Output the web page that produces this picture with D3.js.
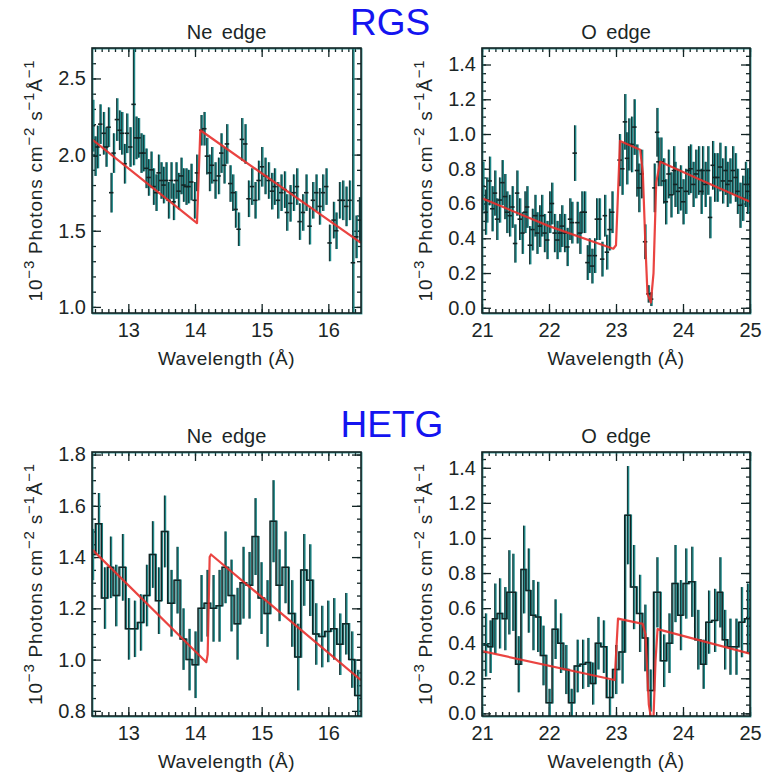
<!DOCTYPE html>
<html>
<head>
<meta charset="utf-8">
<script src="https://cdn.jsdelivr.net/npm/d3@7"></script>
<style>
  body { margin: 0; background: #fff; }
  svg { display: block; }
  text { font-family: "Liberation Sans", Arial, sans-serif; fill: #1b2626; }
  .tick text { font-size: 20px; }
  .domain { display: none; }
</style>
</head>
<body>
<div id="chart"></div>
<script>
// RGS Ne edge: [wavelength, flux, error]
var rgsNeData = [
  [12.465,2.19,0.17],[12.50,1.99,0.13],[12.535,2.05,0.14],[12.575,2.20,0.13],[12.625,2.14,0.14],
  [12.665,2.05,0.13],[12.70,2.18,0.13],[12.74,1.75,0.13],[12.775,2.01,0.13],[12.825,2.23,0.14],
  [12.865,2.16,0.13],[12.90,2.14,0.14],[12.94,1.94,0.13],[12.975,2.14,0.13],[13.025,2.05,0.13],
  [13.075,2.33,0.40],[13.115,2.11,0.14],[13.15,2.11,0.13],[13.19,2.01,0.13],[13.225,2.01,0.12],
  [13.265,1.91,0.13],[13.30,1.85,0.12],[13.34,1.90,0.12],[13.375,1.79,0.12],[13.415,1.75,0.12],
  [13.45,1.88,0.12],[13.49,1.83,0.12],[13.525,1.80,0.12],[13.565,1.83,0.12],[13.60,1.70,0.12],
  [13.64,1.83,0.12],[13.675,1.69,0.12],[13.715,1.83,0.12],[13.75,1.76,0.12],[13.79,1.86,0.12],
  [13.825,1.80,0.11],[13.865,1.79,0.12],[13.90,1.79,0.11],[13.94,1.82,0.12],[13.99,1.70,0.12],
  [14.025,1.88,0.12],[14.09,2.16,0.10],[14.135,2.17,0.11],[14.175,1.99,0.12],[14.215,1.88,0.12],
  [14.25,1.93,0.12],[14.30,1.83,0.12],[14.35,1.86,0.12],[14.39,2.01,0.13],[14.435,1.93,0.12],
  [14.475,2.07,0.13],[14.525,1.81,0.12],[14.565,1.75,0.12],[14.605,1.64,0.12],[14.65,1.51,0.11],
  [14.70,2.10,0.14],[14.75,2.07,0.13],[14.80,1.71,0.12],[14.85,1.79,0.12],[14.90,1.70,0.12],
  [14.95,1.83,0.13],[15.00,1.92,0.13],[15.05,1.86,0.12],[15.10,1.83,0.12],[15.15,1.76,0.12],
  [15.19,1.79,0.12],[15.24,1.70,0.12],[15.29,1.75,0.12],[15.34,1.77,0.12],[15.375,1.62,0.12],
  [15.425,1.68,0.12],[15.475,1.75,0.12],[15.525,1.79,0.12],[15.565,1.56,0.12],[15.615,1.62,0.12],
  [15.665,1.75,0.12],[15.715,1.53,0.12],[15.765,1.70,0.12],[15.815,1.75,0.12],[15.865,1.66,0.12],
  [15.915,1.75,0.12],[15.965,1.79,0.12],[16.015,1.42,0.12],[16.075,1.57,0.12],[16.115,1.50,0.12],
  [16.165,1.70,0.12],[16.215,1.70,0.13],[16.265,1.66,0.13],[16.315,1.70,0.13],[16.365,1.29,1.60],
  [16.415,1.46,0.14],[16.465,1.57,0.15]
];
var rgsNeModel = [[12.455,2.10],[14.03,1.55],[14.08,2.16],[16.49,1.42]];

// RGS O edge
var rgsOData = [
  [21.01,0.70,0.14],[21.05,0.55,0.13],[21.07,0.62,0.13],[21.11,0.73,0.14],[21.15,0.57,0.13],
  [21.19,0.66,0.13],[21.22,0.51,0.12],[21.26,0.62,0.13],[21.30,0.72,0.13],[21.34,0.64,0.13],
  [21.37,0.55,0.12],[21.41,0.53,0.12],[21.45,0.58,0.12],[21.49,0.37,0.11],[21.52,0.66,0.13],
  [21.56,0.51,0.12],[21.60,0.43,0.12],[21.64,0.55,0.12],[21.67,0.58,0.12],[21.71,0.36,0.11],
  [21.75,0.45,0.12],[21.79,0.53,0.12],[21.82,0.43,0.12],[21.86,0.47,0.12],[21.89,0.53,0.12],
  [21.93,0.43,0.11],[21.97,0.39,0.11],[22.01,0.55,0.12],[22.04,0.60,0.12],[22.08,0.43,0.11],
  [22.12,0.39,0.11],[22.16,0.43,0.11],[22.19,0.47,0.12],[22.23,0.43,0.11],[22.27,0.35,0.11],
  [22.31,0.51,0.12],[22.34,0.49,0.12],[22.38,0.89,0.16],[22.42,0.49,0.12],[22.46,0.43,0.12],
  [22.49,0.55,0.12],[22.53,0.55,0.12],[22.57,0.26,0.10],[22.60,0.30,0.10],[22.64,0.24,0.10],
  [22.68,0.30,0.10],[22.71,0.51,0.12],[22.75,0.51,0.12],[22.79,0.28,0.10],[22.83,0.53,0.12],
  [22.86,0.32,0.10],[22.90,0.45,0.12],[22.94,0.55,0.12],
  [23.05,0.85,0.15],[23.09,0.80,0.15],[23.13,1.07,0.16],[23.16,0.86,0.15],[23.19,0.94,0.15],
  [23.23,0.94,0.16],[23.27,1.04,0.16],[23.31,0.79,0.15],[23.34,0.69,0.14],[23.38,0.77,0.14],
  [23.43,0.38,0.10],[23.48,0.08,0.05],[23.52,0.05,0.04],[23.57,0.69,0.14],[23.61,1.01,0.14],
  [23.63,0.84,0.14],[23.67,0.84,0.14],[23.71,0.73,0.13],[23.74,0.61,0.13],[23.78,0.77,0.14],
  [23.82,0.65,0.13],[23.86,0.79,0.14],[23.88,0.71,0.13],[23.92,0.67,0.13],[23.96,0.69,0.13],
  [24.00,0.61,0.13],[24.04,0.67,0.13],[24.08,0.79,0.14],[24.11,0.80,0.14],[24.15,0.71,0.13],
  [24.19,0.77,0.14],[24.23,0.79,0.14],[24.27,0.67,0.13],[24.29,0.79,0.14],[24.33,0.71,0.13],
  [24.37,0.79,0.14],[24.40,0.52,0.12],[24.44,0.82,0.14],[24.47,0.75,0.14],[24.51,0.75,0.14],
  [24.55,0.81,0.14],[24.59,0.73,0.13],[24.63,0.79,0.14],[24.66,0.71,0.13],[24.70,0.73,0.13],
  [24.74,0.79,0.14],[24.78,0.75,0.14],[24.81,0.67,0.13],[24.85,0.59,0.13],[24.89,0.63,0.13],
  [24.93,0.71,0.13],[24.96,0.67,0.13],[25.00,0.71,0.13]
];
var rgsOModel = [[21.0,0.63],[22.0,0.47],[22.96,0.34],[23.0,0.36],[23.06,0.96],[23.36,0.91],
  [23.40,0.78],[23.44,0.35],[23.47,0.08],[23.52,0.03],[23.56,0.20],[23.60,0.72],[23.66,0.84],
  [24.3,0.73],[25.0,0.61]];

// HETG Ne edge (binned)
var hetgNeWave = [12.46,12.55,12.64,12.73,12.81,12.91,13.00,13.09,13.18,13.27,13.36,13.45,13.54,
  13.64,13.73,13.82,13.91,14.00,14.09,14.18,14.27,14.36,14.45,14.54,14.63,14.72,14.81,14.90,
  14.99,15.08,15.17,15.26,15.35,15.45,15.54,15.63,15.72,15.81,15.90,15.99,16.08,16.17,16.26,
  16.35,16.44];
var hetgNeFlux = [1.41,1.53,1.24,1.36,1.25,1.36,1.12,1.12,1.145,1.25,1.41,1.23,1.50,1.22,1.31,
  1.08,1.00,0.98,1.20,1.22,1.20,1.21,1.36,1.25,1.14,1.30,1.29,1.48,1.24,1.18,1.54,1.29,1.36,
  1.18,1.01,1.35,1.31,1.10,1.09,1.11,1.12,1.06,1.14,1.00,0.86];
var hetgNeErr = [0.10,0.12,0.12,0.12,0.12,0.13,0.12,0.11,0.11,0.12,0.13,0.13,0.14,0.13,0.13,
  0.12,0.12,0.13,0.13,0.13,0.13,0.14,0.14,0.14,0.14,0.14,0.13,0.15,0.14,0.13,0.16,0.14,0.14,
  0.13,0.13,0.14,0.14,0.12,0.12,0.12,0.12,0.12,0.12,0.11,0.10];
var hetgNeModel = [[12.455,1.43],[14.17,0.99],[14.19,1.02],[14.22,1.40],[14.24,1.41],[16.49,0.92]];

// HETG O edge (binned)
var hetgOWave = [21.05,21.12,21.19,21.26,21.34,21.40,21.46,21.54,21.62,21.69,21.76,21.83,21.91,
  22.00,22.09,22.17,22.25,22.33,22.42,22.50,22.58,22.65,22.73,22.81,22.90,22.995,23.09,23.17,
  23.26,23.35,23.43,23.51,23.61,23.71,23.79,23.88,23.96,24.04,24.13,24.22,24.30,24.38,24.47,
  24.55,24.62,24.70,24.79,24.87,24.96];
var hetgOFlux = [0.39,0.38,0.54,0.57,0.54,0.69,0.69,0.28,0.82,0.70,0.56,0.55,0.33,0.06,0.48,
  0.40,0.25,0.06,0.27,0.28,0.29,0.17,0.40,0.38,0.09,0.25,0.35,1.13,0.72,0.57,0.43,0.13,0.69,
  0.30,0.40,0.74,0.56,0.74,0.75,0.42,0.28,0.52,0.53,0.69,0.42,0.38,0.38,0.52,0.54];
var hetgOErr = [0.18,0.15,0.20,0.20,0.18,0.24,0.22,0.16,0.25,0.24,0.20,0.20,0.17,0.08,0.17,
  0.17,0.14,0.08,0.15,0.14,0.14,0.12,0.15,0.15,0.10,0.14,0.18,0.28,0.24,0.22,0.19,0.12,0.20,
  0.15,0.17,0.22,0.20,0.20,0.20,0.17,0.14,0.18,0.18,0.20,0.17,0.16,0.16,0.20,0.20];
var hetgOModel = [[21.0,0.355],[22.98,0.19],[23.03,0.54],[23.40,0.51],[23.44,0.45],[23.49,0.05],
  [23.52,-0.02],[23.56,-0.02],[23.59,0.30],[23.62,0.48],[25.0,0.34]];

var W = 781, H = 773;
var teal = "#1f8787", ink = "#122424", red = "#e8302c";

var svg = d3.select("#chart").append("svg").attr("width", W).attr("height", H);

function zip(w, f, e){ return w.map(function(d,i){ return [d, f[i], e[i]]; }); }

var panels = [
  {title:"Ne edge", box:[92,48,361,313], x:[12.455,16.49], y:[0.96,2.70], xMaj:1, xMin:0.1, yMaj:0.5, yMin:0.1,
   data:rgsNeData, model:rgsNeModel, hist:false},
  {title:"O edge", box:[482,48,750,313], x:[21,25], y:[-0.03,1.495], xMaj:1, xMin:0.1, yMaj:0.2, yMin:0.05,
   data:rgsOData, model:rgsOModel, hist:false},
  {title:"Ne edge", box:[92,452,361,716], x:[12.455,16.49], y:[0.78,1.81], xMaj:1, xMin:0.1, yMaj:0.2, yMin:0.05,
   data:zip(hetgNeWave,hetgNeFlux,hetgNeErr), model:hetgNeModel, hist:true},
  {title:"O edge", box:[482,452,750,716], x:[21,25], y:[-0.015,1.49], xMaj:1, xMin:0.1, yMaj:0.2, yMin:0.05,
   data:zip(hetgOWave,hetgOFlux,hetgOErr), model:hetgOModel, hist:true}
];

function range(dom, step){
  var a = Math.ceil(dom[0]/step - 1e-6), b = Math.floor(dom[1]/step + 1e-6), out = [];
  for (var i = a; i <= b; i++) out.push(+(i*step).toFixed(4));
  return out;
}

panels.forEach(function(p, idx){
  var x0 = p.box[0], y0 = p.box[1], x1 = p.box[2], y1 = p.box[3];
  var x = d3.scaleLinear().domain(p.x).range([x0, x1]);
  var y = d3.scaleLinear().domain(p.y).range([y1, y0]);
  var g = svg.append("g");

  g.append("clipPath").attr("id","clip"+idx).append("rect")
    .attr("x",x0).attr("y",y0).attr("width",x1-x0).attr("height",y1-y0);

  // minor + major ticks on all four sides, pointing inward
  var xMinor = range(p.x, p.xMin), yMinor = range(p.y, p.yMin);
  var xMajor = range(p.x, p.xMaj), yMajor = range(p.y, p.yMaj);
  g.append("g").attr("transform","translate(0,"+y1+")")
    .call(d3.axisBottom(x).tickValues(xMinor).tickSize(-4).tickFormat(""));
  g.append("g").attr("transform","translate(0,"+y0+")")
    .call(d3.axisTop(x).tickValues(xMinor).tickSize(-4).tickFormat(""));
  g.append("g").attr("transform","translate("+x0+",0)")
    .call(d3.axisLeft(y).tickValues(yMinor).tickSize(-4).tickFormat(""));
  g.append("g").attr("transform","translate("+x1+",0)")
    .call(d3.axisRight(y).tickValues(yMinor).tickSize(-4).tickFormat(""));
  g.append("g").attr("transform","translate(0,"+y1+")")
    .call(d3.axisBottom(x).tickValues(xMajor).tickSize(-9).tickPadding(10).tickFormat(d3.format("d")));
  g.append("g").attr("transform","translate(0,"+y0+")")
    .call(d3.axisTop(x).tickValues(xMajor).tickSize(-9).tickFormat(""));
  g.append("g").attr("transform","translate("+x0+",0)")
    .call(d3.axisLeft(y).tickValues(yMajor).tickSize(-9).tickPadding(6).tickFormat(d3.format(".1f")));
  g.append("g").attr("transform","translate("+x1+",0)")
    .call(d3.axisRight(y).tickValues(yMajor).tickSize(-9).tickFormat(""));
  g.selectAll(".tick line").attr("stroke", ink).attr("stroke-width", 1.3);

  var plot = g.append("g").attr("clip-path","url(#clip"+idx+")");

  // error bars: teal body with dark core
  plot.selectAll(".eb").data(p.data).enter().append("line")
    .attr("x1", function(d){ return x(d[0])+0.8; }).attr("x2", function(d){ return x(d[0])+0.8; })
    .attr("y1", function(d){ return y(d[1]-d[2]); }).attr("y2", function(d){ return y(d[1]+d[2]); })
    .attr("stroke", teal).attr("stroke-width", 2.2);
  plot.selectAll(".ec").data(p.data).enter().append("line")
    .attr("x1", function(d){ return x(d[0]); }).attr("x2", function(d){ return x(d[0]); })
    .attr("y1", function(d){ return y(d[1]-d[2]); }).attr("y2", function(d){ return y(d[1]+d[2]); })
    .attr("stroke", ink).attr("stroke-width", 0.9);

  if (p.hist) {
    var pts = [[p.x[0], p.data[0][1]]].concat(p.data.map(function(d){ return [d[0], d[1]]; }))
      .concat([[p.x[1], p.data[p.data.length-1][1]]]);
    var step = d3.line().x(function(d){ return x(d[0]); }).y(function(d){ return y(d[1]); }).curve(d3.curveStep);
    plot.append("path").attr("d", step(pts)).attr("fill","none")
      .attr("stroke", teal).attr("stroke-width", 1.4).attr("transform","translate(1,0)");
    plot.append("path").attr("d", step(pts)).attr("fill","none")
      .attr("stroke", ink).attr("stroke-width", 1.5);
  } else {
    plot.selectAll(".pt").data(p.data).enter().append("line")
      .attr("x1", function(d){ return x(d[0])-2; }).attr("x2", function(d){ return x(d[0])+2.5; })
      .attr("y1", function(d){ return y(d[1]); }).attr("y2", function(d){ return y(d[1]); })
      .attr("stroke", ink).attr("stroke-width", 1.6);
  }

  // model
  var ml = d3.line().x(function(d){ return x(d[0]); }).y(function(d){ return y(d[1]); });
  plot.append("path").attr("d", ml(p.model)).attr("fill","none")
    .attr("stroke", red).attr("stroke-width", 2.2).attr("stroke-linejoin","round").attr("opacity",0.9);

  // frame
  g.append("rect").attr("x",x0+0.8).attr("y",y0+0.8).attr("width",x1-x0).attr("height",y1-y0)
    .attr("fill","none").attr("stroke",teal).attr("stroke-width",1.2);
  g.append("rect").attr("x",x0).attr("y",y0).attr("width",x1-x0).attr("height",y1-y0)
    .attr("fill","none").attr("stroke",ink).attr("stroke-width",1.6);

  // titles and labels
  g.append("text").attr("x",(x0+x1)/2).attr("y",y0-9).attr("text-anchor","middle")
    .style("font-size","20px").style("word-spacing","4px").text(p.title);
  g.append("text").attr("x",(x0+x1)/2).attr("y",y1+52).attr("text-anchor","middle")
    .style("font-size","19px").style("letter-spacing","0.5px").text("Wavelength (Å)");

  var yl = g.append("text").attr("transform","translate("+(x0-50)+","+((y0+y1)/2)+") rotate(-90)")
    .attr("text-anchor","middle").style("font-size","19px").style("letter-spacing","0.8px");
  yl.append("tspan").text("10");
  yl.append("tspan").attr("dy",-8).style("font-size","15px").text("\u22123");
  yl.append("tspan").attr("dy",8).text(" Photons cm");
  yl.append("tspan").attr("dy",-8).style("font-size","15px").text("\u22122");
  yl.append("tspan").attr("dy",8).text(" s");
  yl.append("tspan").attr("dy",-8).style("font-size","15px").text("\u22121");
  yl.append("tspan").attr("dy",8).text("Å");
  yl.append("tspan").attr("dy",-8).style("font-size","15px").text("\u22121");
});

svg.append("text").attr("x",390).attr("y",35).attr("text-anchor","middle")
  .style("font-size","37px").style("fill","#1414f0").text("RGS");
svg.append("text").attr("x",392).attr("y",437).attr("text-anchor","middle")
  .style("font-size","37px").style("fill","#1414f0").text("HETG");
</script>
</body>
</html>
